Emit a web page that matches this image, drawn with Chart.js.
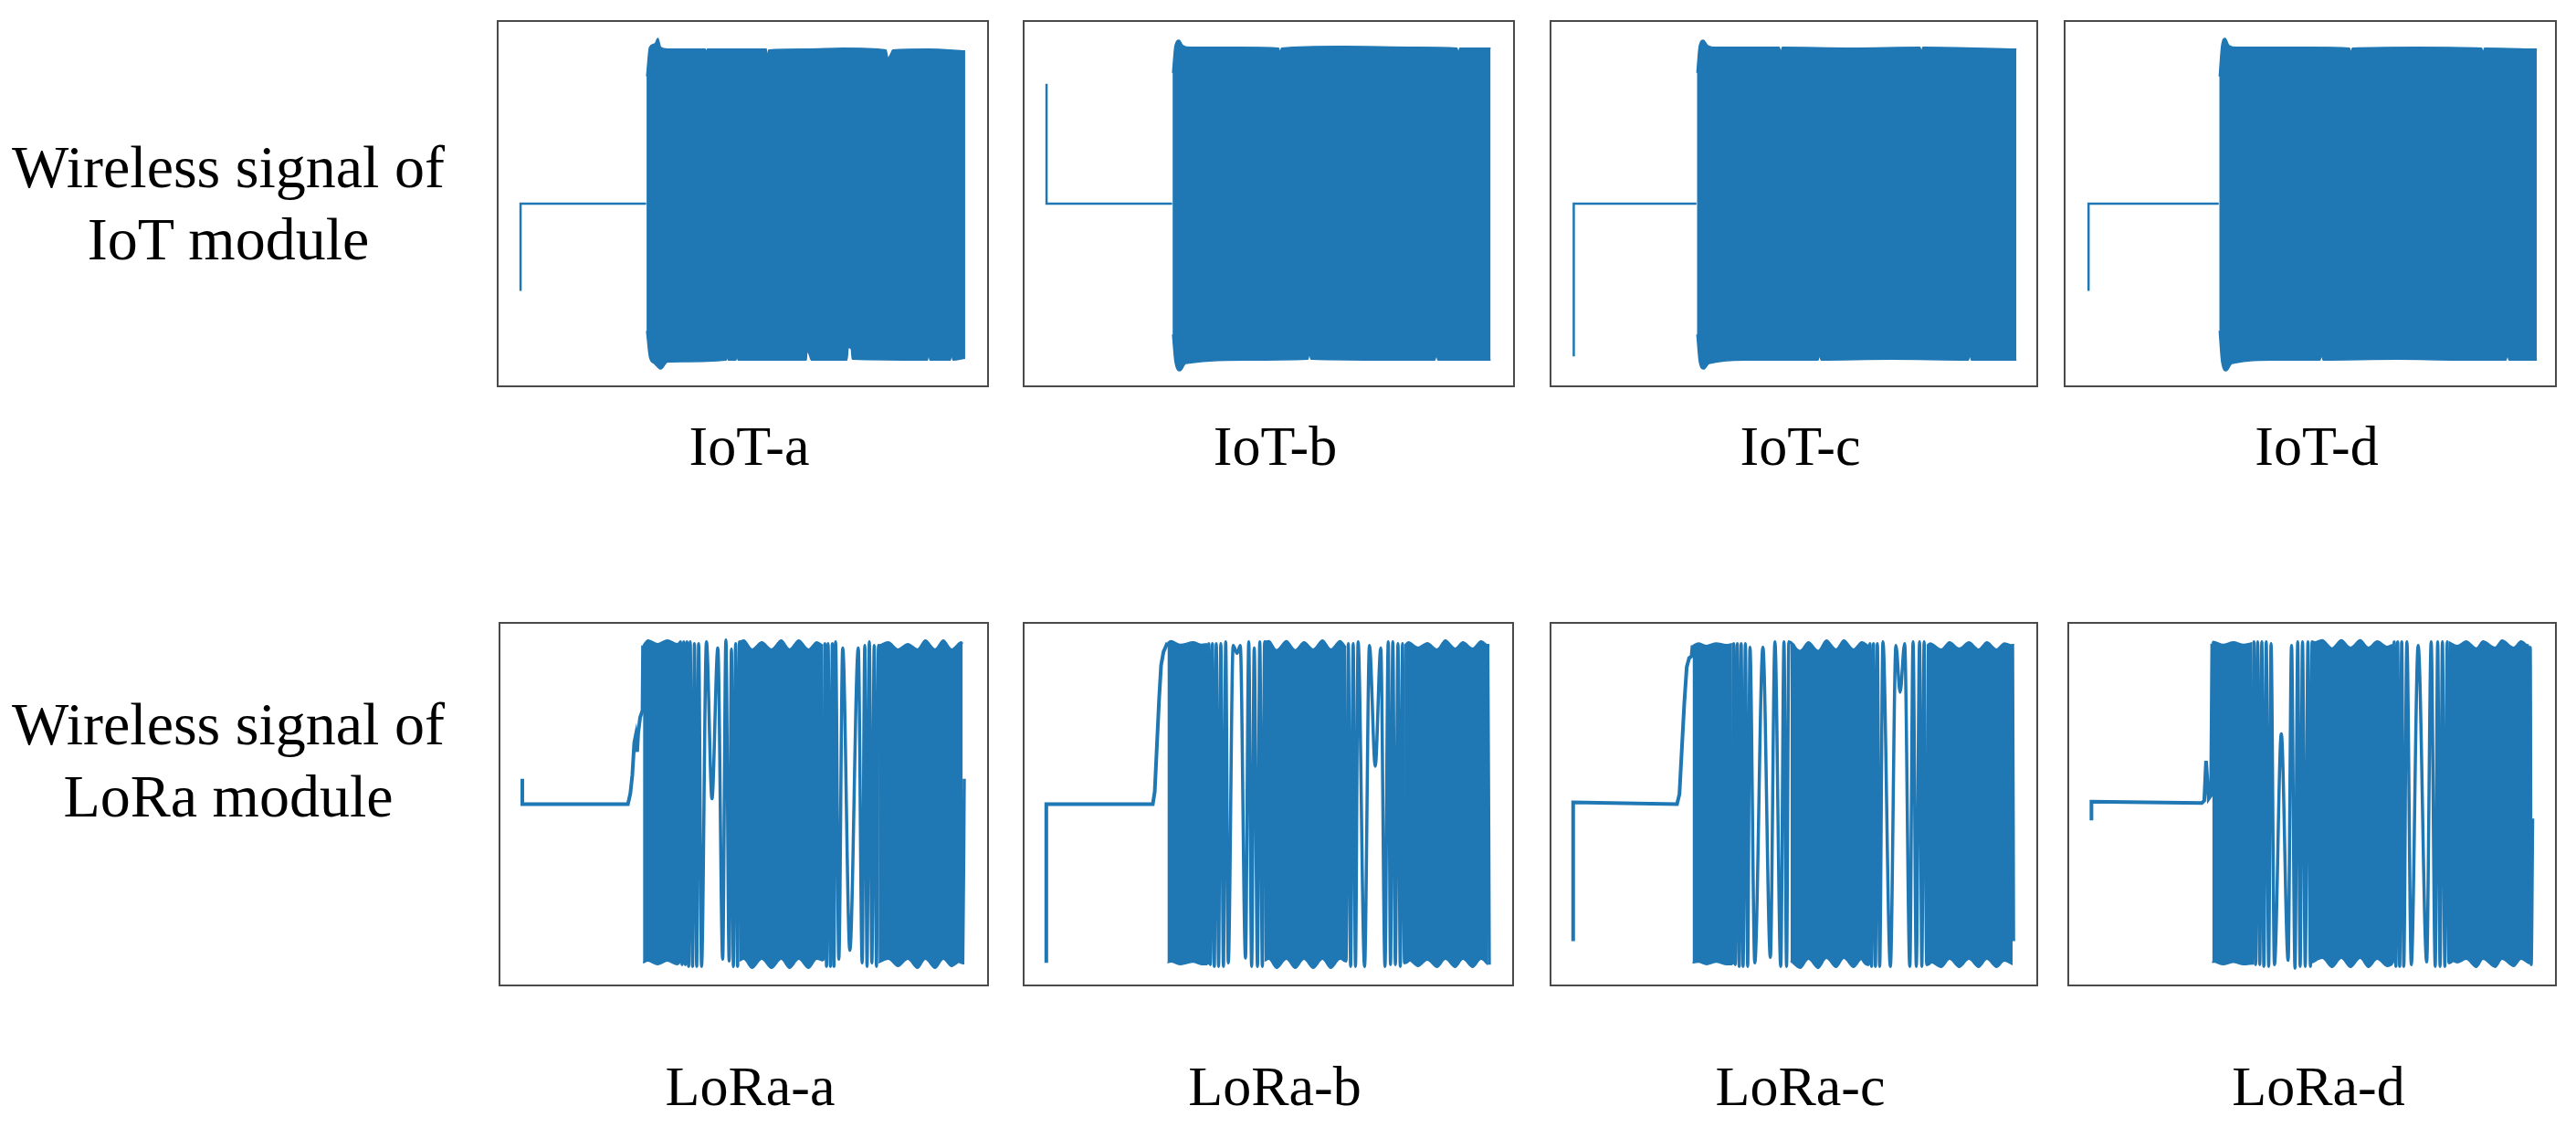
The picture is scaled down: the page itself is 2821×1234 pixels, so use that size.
<!DOCTYPE html>
<html>
<head>
<meta charset="utf-8">
<script src="https://cdn.jsdelivr.net/npm/chart.js@4.4.0/dist/chart.umd.min.js"></script>
<style>
  body { margin: 0; width: 2821px; height: 1234px; background: #fff; position: relative; overflow: hidden;
         font-family: "Liberation Serif", "Times New Roman", serif; color: #000; }
  .panel { position: absolute; border: 2px solid #4a4a4a; box-sizing: border-box; }
  .panel canvas { display: block; }
  .label { position: absolute; font-size: 62px; line-height: 62px; text-align: center; width: 400px; white-space: nowrap; }
  .row { position: absolute; left: 0; width: 500px; font-size: 66px; line-height: 79px; text-align: center; white-space: nowrap; }
</style>
</head>
<body>
<div class="row" style="top:143px">Wireless signal of<br>IoT module</div>
<div class="row" style="top:753px">Wireless signal of<br>LoRa module</div>
<script>
// x: 0..100 (% of record length), y: -1..1 (normalised amplitude)

// ---- IoT module ----
const iotA_trace = [[4.5,-0.48],[4.5,0.0],[30.2,0.0]];
const iotA_top = [[30.3,0.70],[30.9,0.86],[32.0,0.88],[32.6,0.91],[33.2,0.86],[34.6,0.85],[42.3,0.85],[42.5,0.82],[42.7,0.85],
  [54.8,0.85],[55.0,0.80],[55.3,0.845],[63.0,0.85],[70.5,0.855],[79.3,0.845],[79.7,0.80],[80.2,0.82],[80.7,0.845],[88.0,0.85],[95.5,0.84]];
const iotA_bottom = [[30.3,-0.70],[30.9,-0.845],[31.9,-0.88],[33.2,-0.91],[34.6,-0.87],[46.6,-0.86],[46.8,-0.83],[47.0,-0.86],
  [48.6,-0.86],[48.8,-0.82],[49.0,-0.86],[63.0,-0.86],[63.1,-0.81],[63.6,-0.83],[64.0,-0.86],[71.3,-0.86],[71.6,-0.79],[72.2,-0.80],
  [72.4,-0.855],[87.8,-0.86],[88.0,-0.82],[88.3,-0.86],[92.5,-0.86],[92.7,-0.82],[93.0,-0.86],[95.5,-0.85]];

const iotB_trace = [[4.5,0.66],[4.5,0.0],[30.2,0.0]];
const iotB_top = [[30.3,0.72],[30.8,0.87],[31.6,0.90],[32.4,0.87],[34.0,0.86],[44.0,0.86],[52.0,0.855],[52.3,0.83],[52.6,0.855],
  [65.0,0.865],[80.0,0.86],[88.5,0.855],[88.8,0.83],[89.1,0.855],[95.4,0.855]];
const iotB_bottom = [[30.3,-0.72],[30.8,-0.87],[31.8,-0.92],[33.0,-0.88],[45.0,-0.86],[58.0,-0.855],[58.3,-0.82],[58.6,-0.855],
  [75.0,-0.86],[84.0,-0.86],[84.3,-0.83],[84.6,-0.86],[95.4,-0.86]];

const iotC_trace = [[4.6,-0.84],[4.6,0.0],[29.9,0.0]];
const iotC_top = [[30.0,0.72],[30.5,0.87],[31.3,0.90],[32.2,0.87],[34.0,0.86],[47.0,0.86],[47.3,0.83],[47.6,0.86],[62.0,0.855],
  [76.0,0.86],[76.3,0.835],[76.6,0.86],[95.9,0.85]];
const iotC_bottom = [[30.0,-0.72],[30.5,-0.87],[31.4,-0.91],[32.5,-0.88],[40.0,-0.86],[55.0,-0.86],[55.3,-0.83],[55.6,-0.86],
  [70.0,-0.855],[86.0,-0.86],[86.3,-0.83],[86.6,-0.86],[95.9,-0.86]];

const iotD_trace = [[4.7,-0.48],[4.7,0.0],[31.3,0.0]];
const iotD_top = [[31.4,0.70],[31.9,0.87],[32.6,0.91],[33.4,0.87],[35.0,0.86],[50.0,0.86],[58.0,0.855],[58.3,0.83],[58.6,0.855],
  [72.0,0.86],[85.0,0.855],[85.3,0.83],[85.6,0.855],[96.3,0.85]];
const iotD_bottom = [[31.4,-0.70],[31.9,-0.87],[32.8,-0.92],[34.0,-0.88],[42.0,-0.86],[52.0,-0.86],[52.3,-0.83],[52.6,-0.86],
  [68.0,-0.855],[80.0,-0.86],[90.0,-0.86],[90.3,-0.83],[90.6,-0.86],[96.3,-0.86]];

// ---- LoRa module ----
const loraA_trace = [[4.5,0.14],[4.5,0.0],[26.2,0.0],[26.7,0.06],[27.1,0.16],[27.5,0.34],[27.8,0.38],[28.1,0.29],[28.3,0.39],
  [28.7,0.48],[29.2,0.52],[29.3,0.88]];
const loraA_chirp = [[36.9,-0.88],[37.0,0.9],[37.33,-0.89],[37.67,0.9],[38.0,-0.89],[38.33,0.9],[38.67,-0.9],[39.0,0.9],[39.47,-0.9],
  [39.87,0.89],[40.33,-0.9],[40.73,0.89],[41.33,-0.9],[42.33,0.9],[43.47,0.03],[44.67,0.866],[45.67,-0.86],[46.33,0.91],[47.0,-0.87],
  [47.47,0.86],[47.87,-0.9],[48.33,0.89],[48.73,-0.9],[49.13,0.9],
  [66.33,-0.86],[66.67,0.89],[67.0,-0.9],[67.33,0.89],[67.8,-0.9],[68.2,0.89],[68.53,-0.9],[68.87,0.9],[69.53,-0.86],[70.33,0.866],
  [71.8,-0.81],[73.53,0.866],[74.33,-0.88],[74.87,0.88],[75.33,-0.9],[75.8,0.9],[76.33,-0.88],[76.8,0.88],[77.27,-0.9],[77.67,0.88],
  [95.0,-0.88],[95.3,0.14]];
const loraA_top = [[29.3,0.88],[30.3,0.91],[32.3,0.89],[34.3,0.91],[36.3,0.89],[36.9,0.90], null,
  [49.1,0.90],[50.0,0.91],[51.7,0.86],[53.7,0.90],[55.7,0.86],[57.7,0.91],[59.4,0.86],[61.3,0.91],[63.3,0.86],[65.0,0.90],[66.3,0.88], null,
  [77.7,0.88],[79.7,0.90],[81.7,0.86],[83.7,0.89],[85.7,0.86],[87.3,0.91],[89.3,0.86],[91.0,0.91],[92.7,0.86],[94.7,0.90],[95.0,0.89]];
const loraA_bottom = [[29.3,-0.88],[30.3,-0.87],[32.3,-0.89],[34.3,-0.87],[36.3,-0.89],[36.9,-0.88], null,
  [49.1,-0.87],[50.0,-0.86],[51.7,-0.91],[53.7,-0.86],[55.7,-0.91],[57.7,-0.86],[59.4,-0.91],[61.3,-0.86],[63.3,-0.91],[65.0,-0.86],[66.3,-0.87], null,
  [77.7,-0.88],[79.7,-0.86],[81.7,-0.9],[83.7,-0.86],[85.7,-0.91],[87.3,-0.86],[89.3,-0.91],[91.0,-0.86],[92.7,-0.9],[94.7,-0.87],[95.0,-0.88]];

const loraB_trace = [[4.46,-0.88],[4.46,0.0],[26.3,0.0],[26.7,0.07],[27.1,0.30],[27.6,0.585],[28.0,0.77],[28.5,0.845],[28.9,0.87],[29.3,0.895]];
const loraB_chirp = [[37.46,-0.89],[37.79,0.89],[38.12,-0.89],[38.52,0.89],[38.92,-0.9],[39.32,0.89],[39.79,-0.9],[40.25,0.89],
  [40.79,-0.9],[41.25,0.9],[41.78,-0.88],[42.78,0.88],[43.58,0.836],[44.24,0.88],[45.31,-0.853],[45.98,0.9],[46.57,-0.9],[47.1,0.866],
  [47.77,-0.9],[48.24,0.9],[48.77,-0.9],[49.23,0.9],
  [65.93,-0.87],[66.4,0.89],[66.87,-0.9],[67.4,0.89],[67.86,-0.9],[68.4,0.9],[69.73,-0.9],[70.73,0.88],[71.92,0.21],[73.05,0.866],
  [73.92,-0.9],[74.58,0.9],[75.05,-0.89],[75.52,0.9],[76.05,-0.89],[76.58,0.89],[77.05,-0.9],[77.51,0.89],[77.91,-0.88],
  [95.0,0.88],[95.3,-0.89]];
const loraB_top = [[29.3,0.895],[30.0,0.906],[32.0,0.886],[34.6,0.90],[36.3,0.886],[37.46,0.89], null,
  [49.23,0.90],[50.1,0.906],[51.7,0.856],[53.7,0.906],[55.5,0.856],[57.3,0.90],[59.2,0.86],[61.1,0.91],[62.8,0.86],[64.7,0.906],[65.93,0.87], null,
  [77.91,0.88],[78.7,0.90],[80.7,0.87],[82.6,0.895],[84.6,0.86],[86.3,0.91],[88.3,0.865],[89.9,0.90],[91.9,0.865],[93.6,0.905],[95.0,0.88]];
const loraB_bottom = [[29.3,-0.88],[30.0,-0.875],[32.0,-0.89],[34.6,-0.876],[36.3,-0.89],[37.46,-0.89], null,
  [49.23,-0.87],[50.1,-0.86],[51.7,-0.91],[53.7,-0.86],[55.5,-0.91],[57.3,-0.86],[59.2,-0.91],[61.1,-0.86],[62.8,-0.91],[64.7,-0.86],[65.93,-0.87], null,
  [77.91,-0.88],[78.7,-0.865],[80.7,-0.9],[82.6,-0.865],[84.6,-0.905],[86.3,-0.86],[88.3,-0.905],[89.9,-0.86],[91.9,-0.905],[93.6,-0.86],[95.0,-0.89]];

const loraC_trace = [[4.48,-0.76],[4.48,0.01],[25.9,0.0],[26.4,0.056],[26.9,0.31],[27.4,0.56],[27.9,0.76],[28.4,0.81],[28.9,0.82],[29.1,0.88]];
const loraC_chirp = [[37.26,-0.89],[37.59,0.89],[37.93,-0.89],[38.33,0.89],[38.73,-0.9],[39.13,0.89],[39.53,-0.9],[40.0,0.89],
  [40.47,-0.9],[40.94,0.87],[41.94,-0.88],[43.61,0.87],[45.15,-0.85],[46.09,0.9],[47.29,-0.9],[47.96,0.9],[48.49,-0.9],[48.96,0.9],
  [65.35,-0.89],[65.69,0.89],[66.02,-0.9],[66.42,0.89],[66.82,-0.9],[67.22,0.89],[67.69,-0.9],[68.36,0.9],[69.9,-0.9],[71.04,0.88],
  [71.91,0.62],[72.84,0.89],[73.91,-0.9],[74.58,0.9],[75.25,-0.9],[75.92,0.9],[76.39,-0.9],[76.86,0.9],[77.39,-0.89],
  [95.1,0.88],[95.3,-0.76]];
const loraC_top = [[29.1,0.88],[30.3,0.894],[32.0,0.88],[34.0,0.894],[36.0,0.885],[37.26,0.89], null,
  [49.3,0.90],[51.3,0.852],[53.0,0.90],[55.0,0.852],[56.7,0.91],[58.7,0.86],[60.3,0.91],[62.3,0.86],[64.0,0.90],[65.35,0.88], null,
  [77.39,0.88],[78.1,0.894],[80.4,0.86],[82.1,0.90],[84.1,0.865],[86.1,0.90],[88.1,0.86],[89.8,0.90],[91.8,0.86],[93.4,0.894],[95.1,0.88]];
const loraC_bottom = [[29.1,-0.88],[30.3,-0.876],[32.0,-0.89],[34.0,-0.876],[36.0,-0.89],[37.26,-0.89], null,
  [49.3,-0.87],[51.3,-0.91],[53.0,-0.86],[55.0,-0.91],[56.7,-0.855],[58.7,-0.905],[60.3,-0.855],[62.3,-0.905],[64.0,-0.86],[65.35,-0.89], null,
  [77.39,-0.89],[78.1,-0.876],[80.4,-0.905],[82.1,-0.86],[84.1,-0.905],[86.1,-0.86],[88.1,-0.905],[89.8,-0.86],[91.8,-0.905],[93.4,-0.87],[95.1,-0.89]];

const loraD_trace = [[4.58,-0.09],[4.58,0.014],[27.3,0.006],[27.8,0.02],[28.17,0.24],[28.7,0.03],[29.2,0.05],[29.44,0.89]];
const loraD_chirp = [[37.68,-0.89],[38.03,0.9],[38.38,-0.89],[38.8,0.9],[39.23,-0.89],[39.65,0.9],[40.07,-0.9],[40.56,0.9],[41.06,-0.9],
  [41.55,0.89],[42.25,-0.89],[43.66,0.39],[45.07,-0.866],[45.77,0.88],[46.48,-0.91],[47.04,0.9],[47.54,-0.9],[48.03,0.9],[48.59,-0.9],
  [49.15,0.9],[49.65,-0.9],[50.0,0.9],
  [66.55,-0.88],[66.9,0.9],[67.25,-0.9],[67.61,0.9],[68.03,-0.9],[68.45,0.9],[68.87,-0.9],[69.51,0.9],[70.42,-0.89],[71.83,0.88],
  [73.59,-0.875],[74.51,0.9],[75.35,-0.9],[75.85,0.9],[76.34,-0.9],[76.83,0.9],[77.32,-0.9],[77.82,0.9],[78.17,-0.88],
  [94.37,0.88],[94.6,-0.88],[94.9,0.87],[95.1,-0.89],[95.4,-0.08]];
const loraD_top = [[29.44,0.89],[29.6,0.903],[31.7,0.886],[33.8,0.90],[35.9,0.886],[37.68,0.895], null,
  [50.0,0.89],[52.1,0.911],[54.1,0.866],[56.0,0.911],[57.9,0.87],[59.9,0.911],[61.6,0.87],[63.4,0.905],[65.5,0.875],[66.55,0.885], null,
  [78.17,0.90],[79.9,0.88],[81.7,0.905],[83.8,0.866],[85.2,0.905],[87.7,0.87],[89.1,0.91],[91.5,0.87],[93.0,0.905],[94.37,0.88]];
const loraD_bottom = [[29.44,-0.88],[29.6,-0.875],[31.7,-0.89],[33.8,-0.877],[35.9,-0.89],[37.68,-0.885], null,
  [50.0,-0.88],[52.1,-0.855],[54.1,-0.905],[56.0,-0.855],[57.9,-0.905],[59.9,-0.855],[61.6,-0.905],[63.4,-0.86],[65.5,-0.9],[66.55,-0.89], null,
  [78.17,-0.86],[79.9,-0.88],[81.7,-0.86],[83.8,-0.905],[85.2,-0.86],[87.7,-0.905],[89.1,-0.86],[91.5,-0.9],[93.0,-0.86],[94.37,-0.88]];

const BLUE = '#1f77b4';

function pts(arr) {
  return arr.map(p => ({x: p[0], y: p[1]}));
}

// split an envelope on null into separate blocks
function runs(arr) {
  const out = [[]];
  arr.forEach(p => {
    if (p) out[out.length - 1].push({x: p[0], y: p[1]});
    else out.push([]);
  });
  return out;
}

function addLabel(text, cx, top) {
  const d = document.createElement('div');
  d.className = 'label';
  d.textContent = text;
  d.style.left = (cx - 200) + 'px';
  d.style.top = top + 'px';
  document.body.appendChild(d);
}

function drawPanel(p) {
  const div = document.createElement('div');
  div.className = 'panel';
  div.style.left = p.x + 'px';
  div.style.top = p.y + 'px';
  div.style.width = p.w + 'px';
  div.style.height = p.h + 'px';
  const canvas = document.createElement('canvas');
  canvas.width = p.w - 4;
  canvas.height = p.h - 4;
  div.appendChild(canvas);
  document.body.appendChild(div);

  const datasets = [];
  const tops = runs(p.upper), bots = runs(p.lower);
  tops.forEach((t, i) => {
    datasets.push({data: t, borderColor: BLUE, backgroundColor: BLUE, borderWidth: 1.5,
      fill: '+1', cubicInterpolationMode: 'monotone'});
    datasets.push({data: bots[i], borderColor: BLUE, borderWidth: 1.5,
      fill: false, cubicInterpolationMode: 'monotone'});
  });
  datasets.push({data: pts(p.trace), borderColor: BLUE, borderWidth: p.traceWidth, fill: false, tension: 0});
  if (p.chirp) {
    datasets.push({data: pts(p.chirp), borderColor: BLUE, borderWidth: 3.5, fill: false,
      cubicInterpolationMode: 'monotone'});
  }

  new Chart(canvas, {
    type: 'line',
    data: {datasets: datasets},
    options: {
      responsive: false,
      animation: false,
      events: [],
      elements: {point: {radius: 0}},
      layout: {padding: 0},
      plugins: {legend: {display: false}, tooltip: {enabled: false}},
      scales: {
        x: {type: 'linear', min: 0, max: 100, display: false},
        y: {min: -1, max: 1, display: false}
      }
    }
  });

  addLabel(p.name, p.x + p.w / 2 + 7, p.labelTop);
}

[
  {name: 'IoT-a', x: 544, y: 22, w: 539, h: 402, labelTop: 457, trace: iotA_trace, upper: iotA_top, lower: iotA_bottom, traceWidth: 2.5},
  {name: 'IoT-b', x: 1120, y: 22, w: 539, h: 402, labelTop: 457, trace: iotB_trace, upper: iotB_top, lower: iotB_bottom, traceWidth: 2.5},
  {name: 'IoT-c', x: 1697, y: 22, w: 535, h: 402, labelTop: 457, trace: iotC_trace, upper: iotC_top, lower: iotC_bottom, traceWidth: 2.5},
  {name: 'IoT-d', x: 2260, y: 22, w: 540, h: 402, labelTop: 457, trace: iotD_trace, upper: iotD_top, lower: iotD_bottom, traceWidth: 2.5},
  {name: 'LoRa-a', x: 546, y: 681, w: 537, h: 399, labelTop: 1158, trace: loraA_trace, chirp: loraA_chirp, upper: loraA_top, lower: loraA_bottom, traceWidth: 4},
  {name: 'LoRa-b', x: 1120, y: 681, w: 538, h: 399, labelTop: 1158, trace: loraB_trace, chirp: loraB_chirp, upper: loraB_top, lower: loraB_bottom, traceWidth: 4},
  {name: 'LoRa-c', x: 1697, y: 681, w: 535, h: 399, labelTop: 1158, trace: loraC_trace, chirp: loraC_chirp, upper: loraC_top, lower: loraC_bottom, traceWidth: 4},
  {name: 'LoRa-d', x: 2264, y: 681, w: 536, h: 399, labelTop: 1158, trace: loraD_trace, chirp: loraD_chirp, upper: loraD_top, lower: loraD_bottom, traceWidth: 4}
].forEach(drawPanel);
</script>
</body>
</html>
